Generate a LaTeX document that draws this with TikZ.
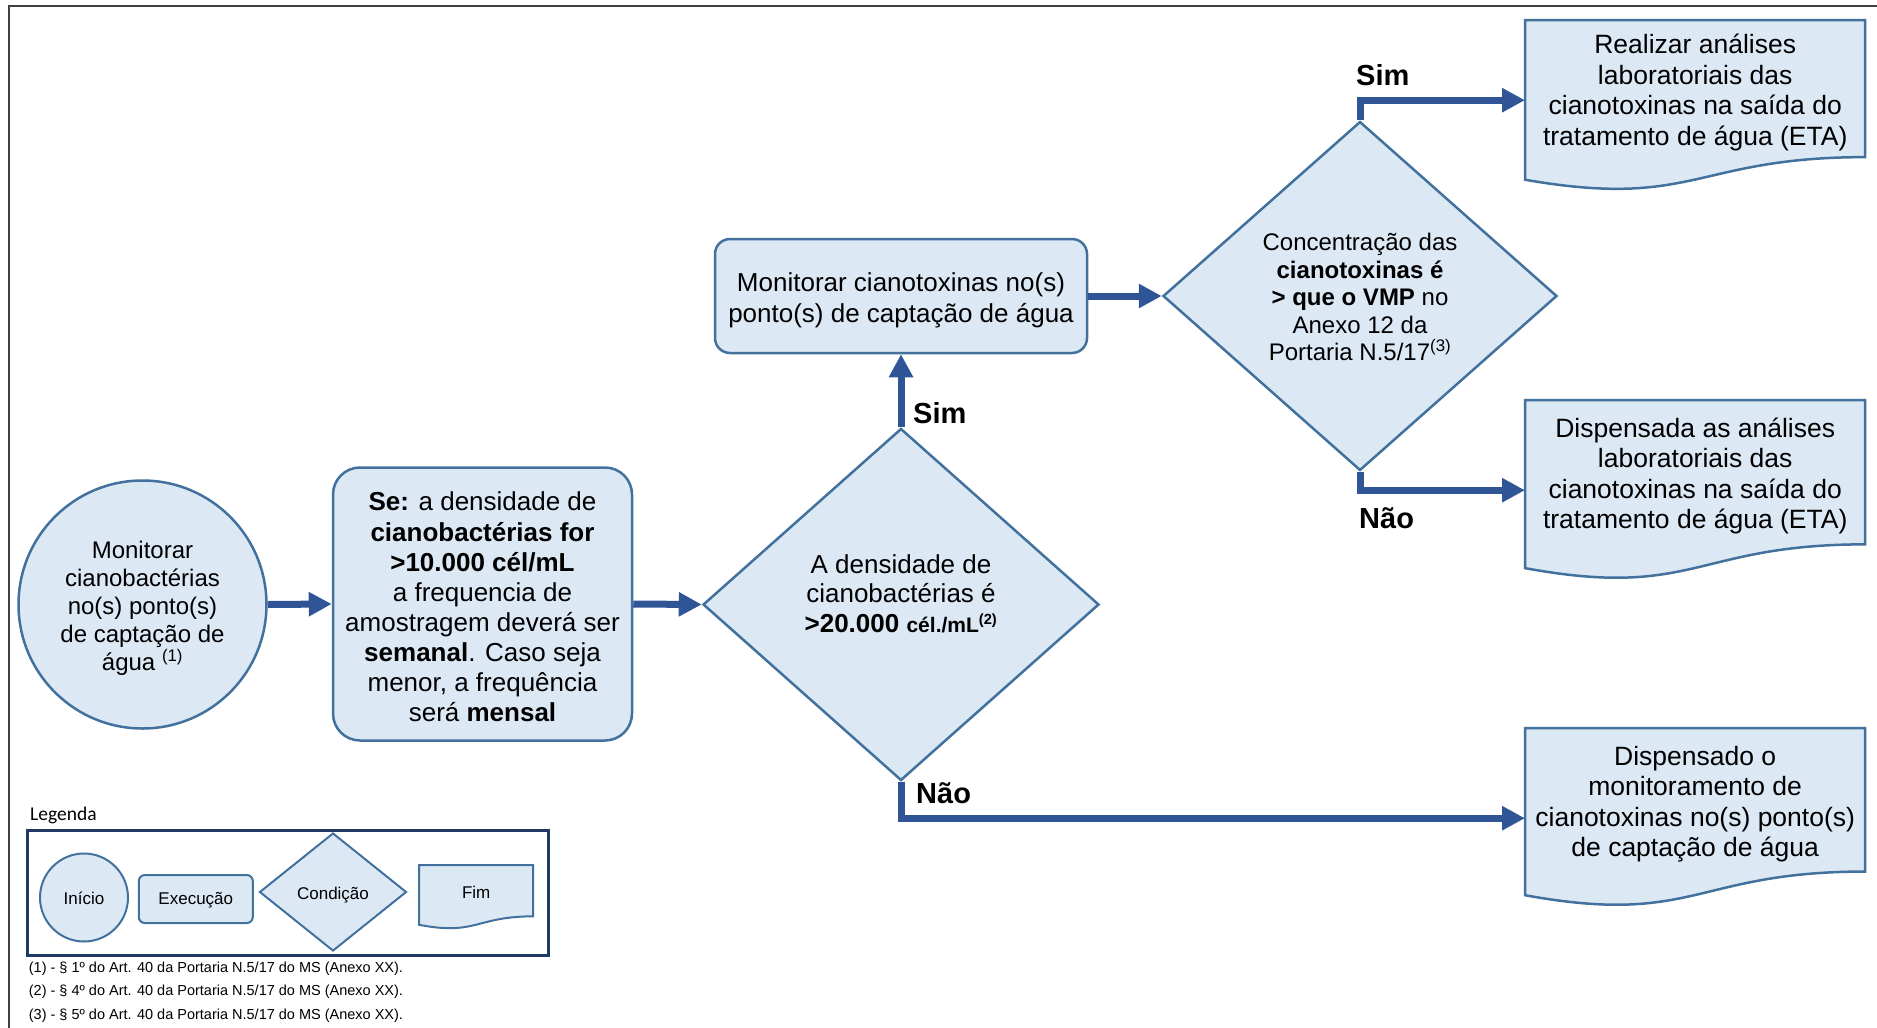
\documentclass[tikz,border=0pt]{standalone}
\usepackage{fontspec}
\setmainfont{Liberation Sans}
\newfontfamily\legendfont{Carlito}
\usetikzlibrary{arrows.meta,shapes.geometric}

\definecolor{shapefill}{HTML}{DDE8F5}
\definecolor{shapeline}{HTML}{41719C}
\definecolor{flowblue}{HTML}{2F5597}
\definecolor{legendnavy}{HTML}{1F3864}
\definecolor{framegray}{HTML}{404040}

\newcommand\fsz[2]{\fontsize{#1}{#2}\selectfont}

% wavy-bottom "document" outline: [style] x y width height
\newcommand\docshape[5][]{%
  \pgfmathsetmacro\dsR{#3+0.802*#5}%
  \pgfmathsetmacro\dsC{#3+1.1075*#5}%
  \pgfmathsetmacro\dsL{#3+0.934*#5}%
  \pgfmathsetmacro\dsM{#2+0.5*#4}%
  \pgfmathsetmacro\dsX{#2+#4}%
  \filldraw[docline,#1] (#2,#3) -- (\dsX,#3) -- (\dsX,\dsR)
    .. controls (\dsM,\dsR) and (\dsM,\dsC) .. (#2,\dsL) -- cycle;}

\tikzset{
  shapebase/.style={fill=shapefill, draw=shapeline, line width=2.5pt, inner sep=0pt, align=center},
  docline/.style={fill=shapefill, draw=shapeline, line width=2.5pt},
  doctext/.style={inner sep=0pt, align=center, font=\fsz{26.5}{30.5}, anchor=north west, minimum width=340pt},
  plaintext/.style={inner sep=0pt, align=center},
  flow/.style={draw=flowblue, line width=7pt, -{Triangle[length=23pt,width=23pt]}},
  branch/.style={font=\bfseries\fsz{29}{34}, anchor=west, inner sep=0pt},
  legendshape/.style={shapebase, line width=2pt},
  legendtext/.style={plaintext, font=\fsz{17}{20}},
  footnote/.style={font=\fsz{14.5}{17}, anchor=west, inner sep=0pt},
}

\begin{document}
\begin{tikzpicture}[x=1pt,y=-1pt]
\useasboundingbox (0,0) rectangle (1877,1028);

% page frame (top and left edges)
\draw[framegray, line width=2pt] (9,1028) -- (9,6) -- (1877,6);

% ---- main flow ----
\node[shapebase, circle, minimum size=248pt] (start) at (142.5,604.5) {};
\node[plaintext, font=\fsz{24}{28}] (starttext) at ([yshift=-3.5pt]start.center)
  {Monitorar\\cianobactérias\\no(s) ponto(s)\\de captação de\\água \textsuperscript{(1)}};

\node[shapebase, rounded corners=27pt, minimum width=299pt, minimum height=273pt] (freq) at (482.5,604) {};
\node[plaintext, font=\fsz{26}{30.1}] (freqtext) at ([yshift=-3pt]freq.center)
  {\textbf{Se:} a densidade de\\
   \textbf{cianobactérias for}\\
   \textbf{>10.000 cél/mL}\\
   a frequencia de\\
   amostragem deverá ser\\
   \textbf{semanal}. Caso seja\\
   menor, a frequência\\
   será \textbf{mensal}};

\node[shapebase, diamond, minimum width=396pt, minimum height=352pt] (dens) at (901,604.5) {};
\node[plaintext, font=\fsz{26}{29.5}] (denstext) at ([yshift=11pt]dens.center)
  {A densidade de\\cianobactérias é\\
   \textbf{>20.000 {\fsz{21}{29.5}cél./mL\textsuperscript{(2)}}}};

\node[shapebase, rounded corners=15pt, minimum width=372pt, minimum height=114pt] (toxmon) at (901,296) {};
\node[plaintext, font=\fsz{26}{31}] (toxmontext) at ([yshift=-4pt]toxmon.center)
  {Monitorar cianotoxinas no(s)\\ponto(s) de captação de água};

\node[shapebase, diamond, minimum width=394pt, minimum height=349pt] (conc) at (1360,296) {};
\node[plaintext, font=\fsz{24}{27.5}] (conctext) at ([yshift=-1pt]conc.center)
  {Concentração das\\\textbf{cianotoxinas é}\\\textbf{> que o VMP} no\\Anexo 12 da\\Portaria N.5/17\textsuperscript{(3)}};

% end documents
\docshape{1525}{20}{340}{171}
\node[doctext, minimum height=137pt] (eta1) at (1525,24)
  {Realizar análises\\laboratoriais das\\cianotoxinas na saída do\\tratamento de água (ETA)};

\docshape{1525}{400}{340}{180}
\node[doctext, minimum height=144pt] (eta2) at (1525,404)
  {Dispensada as análises\\laboratoriais das\\cianotoxinas na saída do\\tratamento de água (ETA)};

\docshape{1525}{728}{340}{179}
\node[doctext, minimum height=144pt] (skip) at (1525,732)
  {Dispensado o\\monitoramento de\\cianotoxinas no(s) ponto(s)\\de captação de água};

% connectors
\draw[flow] (start.east) -- (freq.west);
\draw[flow] (freq.east) -- (dens.west);
\draw[flow] (dens.north) -- (toxmon.south);
\draw[flow] (toxmon.east) -- (conc.west);
\draw[flow] (conc.north) |- ([yshift=-7.5pt]eta1.west);
\draw[flow] (conc.south) |- ([yshift=-14pt]eta2.west);
\draw[flow] (dens.south) |- ([yshift=-14pt]skip.west);

% branch labels
\node[branch] (simup) at (913,413) {Sim};
\node[branch] (simtop) at (1356,75) {Sim};
\node[branch] (naoright) at (1359,518) {Não};
\node[branch] (naodown) at (916,793) {Não};

% ---- legend ----
\node[font=\legendfont\fsz{19.5}{23}, anchor=west, inner sep=0pt] (legtitle) at (30,815) {Legenda};
\draw[legendnavy, line width=3pt] (27.5,830) rectangle (548,955);

\node[legendshape, circle, minimum size=88pt] (lstart) at (84,897.5) {};
\node[legendtext] at ([yshift=-1pt]lstart.center) {Início};
\node[legendshape, rounded corners=6pt, minimum width=114pt, minimum height=48pt] (lstep) at (195.8,899) {};
\node[legendtext] at ([yshift=-1pt]lstep.center) {Execução};
\node[legendshape, diamond, minimum width=147pt, minimum height=118pt] (lcond) at (333,892) {};
\node[legendtext] at ([yshift=-3pt]lcond.center) {Condição};
\docshape[line width=2pt]{419}{865}{114}{64}
\node[legendtext, anchor=north west, minimum width=114pt, minimum height=51pt] (lend) at (419,867) {Fim};

% references
\node[footnote] (ref1) at (28.7,969) {(1) - § 1º do Art. 40 da Portaria N.5/17 do MS (Anexo XX).};
\node[footnote] (ref2) at (28.7,992) {(2) - § 4º do Art. 40 da Portaria N.5/17 do MS (Anexo XX).};
\node[footnote] (ref3) at (28.7,1016) {(3) - § 5º do Art. 40 da Portaria N.5/17 do MS (Anexo XX).};
\end{tikzpicture}
\end{document}
